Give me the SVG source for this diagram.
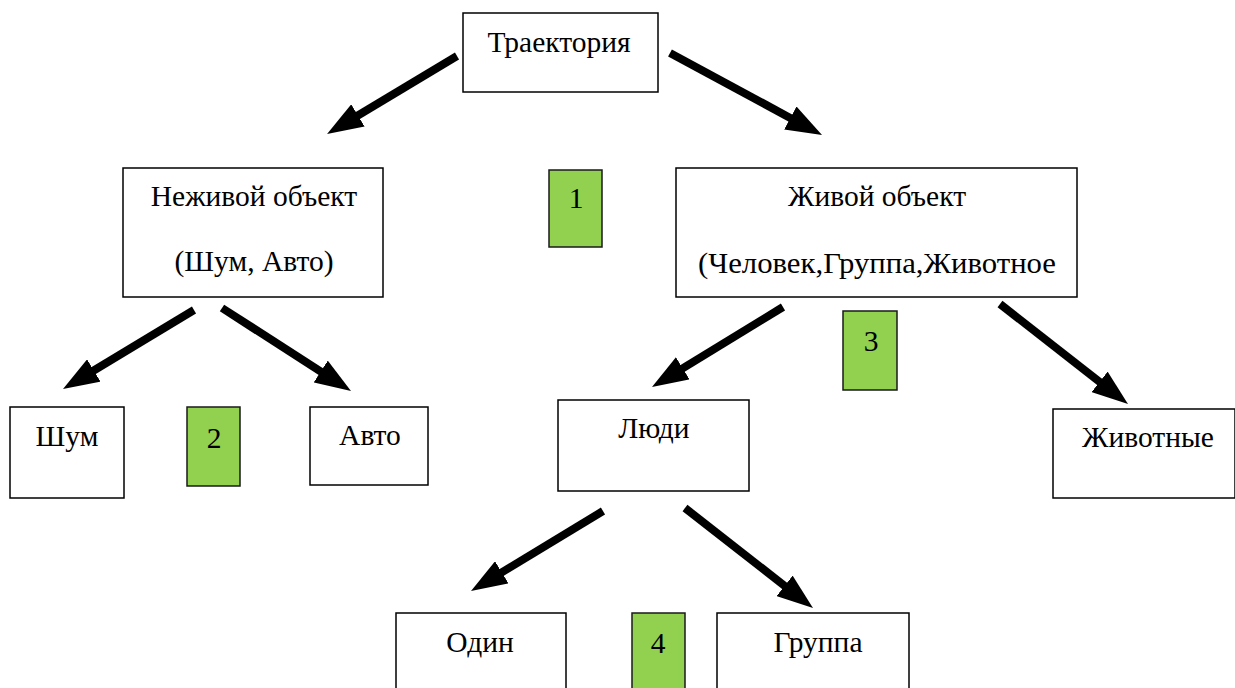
<svg xmlns="http://www.w3.org/2000/svg" width="1235" height="688" viewBox="0 0 1235 688">
<style>
.box{fill:#fff;stroke:#000;stroke-width:1.5}
.num{fill:#92D050;stroke:#1a1a1a;stroke-width:1.5}
.t{font-family:'Liberation Serif','DejaVu Serif',serif;font-size:29.5px;fill:#000;text-anchor:middle}
.arr{stroke:#000;stroke-width:8;fill:none;marker-end:url(#ah)}
</style>
<defs>
<marker id="ah" viewBox="0 0 36 26" markerWidth="36" markerHeight="26" markerUnits="userSpaceOnUse" refX="2" refY="13" orient="auto">
<path d="M0,0 L36,13 L0,26 Z" fill="#000"/>
</marker>
</defs>
<rect width="1235" height="688" fill="#fff"/>
<g id="connectors">
<line class="arr" x1="457" y1="56" x2="356.2" y2="116.5"/>
<line class="arr" x1="670" y1="53" x2="792.1" y2="118.9"/>
<line class="arr" x1="194" y1="310" x2="92.1" y2="371.5"/>
<line class="arr" x1="222" y1="308" x2="322.4" y2="372.6"/>
<line class="arr" x1="783" y1="307" x2="681" y2="369.3"/>
<line class="arr" x1="1000" y1="304" x2="1101.2" y2="383.1"/>
<line class="arr" x1="603" y1="511" x2="500.1" y2="573.4"/>
<line class="arr" x1="685" y1="508" x2="786.2" y2="587.1"/>
</g>
<g id="n-traj"><rect class="box" x="463" y="13" width="195" height="79"/><text class="t" x="559" y="52">Траектория</text></g>
<g id="n-nezhivoy"><rect class="box" x="123" y="168" width="260" height="129"/><text class="t" x="254" y="206">Неживой объект</text><text class="t" x="254" y="271">(Шум, Авто)</text></g>
<g id="n-zhivoy"><rect class="box" x="676" y="168" width="401" height="129"/><text class="t" x="877" y="206">Живой объект</text><text class="t" x="877" y="273" textLength="358" lengthAdjust="spacingAndGlyphs">(Человек,Группа,Животное</text></g>
<g id="g1"><rect class="num" x="549" y="170" width="53" height="77"/><text class="t" x="576" y="208">1</text></g>
<g id="n-shum"><rect class="box" x="10" y="407" width="114" height="91"/><text class="t" x="67" y="446">Шум</text></g>
<g id="g2"><rect class="num" x="187" y="407" width="53" height="79"/><text class="t" x="214" y="448">2</text></g>
<g id="n-avto"><rect class="box" x="310" y="407" width="118" height="78"/><text class="t" x="370" y="445">Авто</text></g>
<g id="g3"><rect class="num" x="843" y="311" width="54" height="79"/><text class="t" x="871" y="351">3</text></g>
<g id="n-lyudi"><rect class="box" x="558" y="400" width="191" height="91"/><text class="t" x="654" y="438">Люди</text></g>
<g id="n-zhivotnye"><rect class="box" x="1053" y="409" width="182" height="89"/><text class="t" x="1148" y="447">Животные</text></g>
<g id="n-odin"><rect class="box" x="396" y="613" width="170" height="80"/><text class="t" x="480" y="652">Один</text></g>
<g id="g4"><rect class="num" x="632" y="613" width="53" height="80"/><text class="t" x="658" y="653">4</text></g>
<g id="n-gruppa"><rect class="box" x="717" y="613" width="192" height="80"/><text class="t" x="818" y="652">Группа</text></g>
</svg>
